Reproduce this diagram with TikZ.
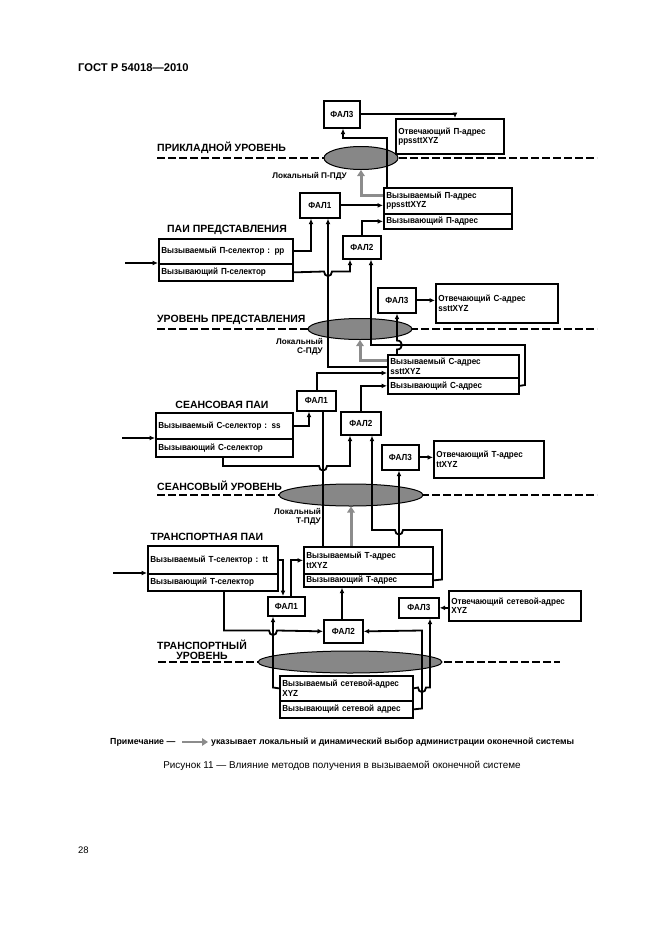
\documentclass[tikz,border=0pt]{standalone}
\usepackage{fontspec}
\setmainfont{Liberation Sans}
\newfontfamily\condfont[FakeStretch=0.92]{Liberation Sans}
\usetikzlibrary{arrows.meta,shapes.geometric}
\begin{document}
\begin{tikzpicture}[x=1pt,y=-1pt,
  bx/.style={draw, line width=1.7pt, inner sep=0pt, anchor=north west,
    font=\condfont\bfseries\fontsize{8.8}{9.3}\selectfont},
  fal/.style={bx, minimum width=#1},
  ad/.style={bx, align=left, inner xsep=2.5pt, text width=#1},
  conn/.style={line width=1.8pt},
  arr/.style={-{Latex[length=5.5pt,width=5pt]}},
  lvl/.style={line width=1.4pt, dash pattern=on 8pt off 3pt},
  lvltxt/.style={font=\bfseries\fontsize{10.5}{10.5}\selectfont, inner sep=0pt},
  ell/.style={ellipse, draw, line width=1pt, fill=black!47, inner sep=0pt},
  loc/.style={font=\bfseries\fontsize{8.2}{9}\selectfont, inner sep=0pt, align=right},
  grarr/.style={draw=black!45, line width=3pt, -{Triangle[length=6pt,width=7.5pt]}}
]
\useasboundingbox (0,0) rectangle (661,935);

% header and page number
\node[anchor=west, inner sep=0pt, font=\bfseries\fontsize{11.2}{12}\selectfont] (hdr) at (78,68) {ГОСТ Р 54018—2010};
\node[anchor=west, inner sep=0pt, font=\fontsize{9.5}{10}\selectfont] (pg) at (78,850) {28};

% level lines
\draw[lvl] (157,158) -- (597,158);
\draw[lvl] (157,329) -- (597,329);
\draw[lvl] (157,495) -- (597,495);
\draw[lvl] (158,662) -- (560,662);

\node[lvltxt, anchor=south west] (lP) at (157,154) {ПРИКЛАДНОЙ УРОВЕНЬ};
\node[lvltxt, anchor=south west] (lS) at (157,325) {УРОВЕНЬ ПРЕДСТАВЛЕНИЯ};
\node[lvltxt, anchor=south west] (lT) at (157,491) {СЕАНСОВЫЙ УРОВЕНЬ};
\node[lvltxt, align=center] (lN) at (202,650) {ТРАНСПОРТНЫЙ\\УРОВЕНЬ};

\node[lvltxt] (pP) at (227,230) {ПАИ ПРЕДСТАВЛЕНИЯ};
\node[lvltxt] (pS) at (222,405) {СЕАНСОВАЯ ПАИ};
\node[lvltxt] (pT) at (207,537) {ТРАНСПОРТНАЯ ПАИ};

% ellipses
\node[ell, minimum width=74pt, minimum height=23pt] (ellP) at (361,158) {};
\node[ell, minimum width=104pt, minimum height=21pt] (ellS) at (360,329) {};
\node[ell, minimum width=144pt, minimum height=22pt] (ellT) at (351,495) {};
\node[ell, minimum width=184pt, minimum height=22pt] (ellN) at (350,662) {};

\node[loc, anchor=east] (locP) at (347,176) {Локальный П-ПДУ};
\node[loc, anchor=east] (locS) at (323,347) {Локальный\\С-ПДУ};
\node[loc, anchor=east] (locT) at (321,517) {Локальный\\Т-ПДУ};

% ---------- application level boxes
\node[fal=36pt, minimum height=27pt] (fal3P) at (323,100) {ФАЛ3};
\node[ad=103pt, minimum height=35pt] (otvP) at (395,118) {Отвечающий П-адрес\\ppssttXYZ};
\node[ad=123pt, minimum height=26pt] (vyzPt) at (383,187) {Вызываемый П-адрес\\ppssttXYZ};
\node[ad=123pt, minimum height=15pt] (vyzPb) at (383,213) {Вызывающий П-адрес};
\node[fal=40pt, minimum height=25pt] (fal1P) at (299,192) {ФАЛ1};
\node[fal=38pt, minimum height=23pt] (fal2P) at (342,235) {ФАЛ2};
\node[ad=129pt, minimum height=25pt] (selPt) at (158,238) {Вызываемый П-селектор : pp};
\node[ad=129pt, minimum height=17pt] (selPb) at (158,263) {Вызывающий П-селектор};

% ---------- presentation level boxes
\node[fal=38pt, minimum height=25pt] (fal3S) at (377,287) {ФАЛ3};
\node[ad=117pt, minimum height=39pt] (otvS) at (435,283) {Отвечающий С-адрес\\ssttXYZ};
\node[ad=126pt, minimum height=23pt] (vyzSt) at (387,354) {Вызываемый С-адрес\\ssttXYZ};
\node[ad=126pt, minimum height=16pt] (vyzSb) at (387,377) {Вызывающий С-адрес};
\node[fal=39pt, minimum height=20pt] (fal1S) at (296,390) {ФАЛ1};
\node[fal=40pt, minimum height=23pt] (fal2S) at (340,411) {ФАЛ2};
\node[ad=132pt, minimum height=26pt] (selSt) at (155,412) {Вызываемый С-селектор : ss};
\node[ad=132pt, minimum height=18pt] (selSb) at (155,438) {Вызывающий С-селектор};

% ---------- session level boxes
\node[fal=37pt, minimum height=25pt] (fal3T) at (381,444) {ФАЛ3};
\node[ad=105pt, minimum height=37pt] (otvT) at (433,440) {Отвечающий Т-адрес\\ttXYZ};

% ---------- transport level boxes
\node[ad=125pt, minimum height=28pt] (selTt) at (147,545) {Вызываемый Т-селектор : tt};
\node[ad=125pt, minimum height=17pt] (selTb) at (147,573) {Вызывающий Т-селектор};
\node[ad=124pt, minimum height=27pt] (vyzTt) at (303,546) {Вызываемый Т-адрес\\ttXYZ};
\node[ad=124pt, minimum height=13pt] (vyzTb) at (303,573) {Вызывающий Т-адрес};
\node[fal=37pt, minimum height=19pt] (fal1T) at (267,596) {ФАЛ1};
\node[fal=39pt, minimum height=23pt] (fal2T) at (323,619) {ФАЛ2};
\node[fal=40pt, minimum height=20pt] (fal3N) at (398,597) {ФАЛ3};
\node[ad=127pt, minimum height=30pt] (otvN) at (448,590) {Отвечающий сетевой-адрес\\XYZ};
\node[ad=128pt, minimum height=25pt] (vyzNt) at (279,675) {Вызываемый сетевой-адрес\\XYZ};
\node[ad=128pt, minimum height=17pt] (vyzNb) at (279,700) {Вызывающий сетевой адрес};

% input arrows
\coordinate (inP) at (125,263);
\coordinate (inS) at (122,438);
\coordinate (inT) at (113,573);
\draw[conn,arr] (inP) -- (inP -| selPt.west);
\draw[conn,arr] (inS) -- (inS -| selSt.west);
\draw[conn,arr] (inT) -- (inT -| selTt.west);

% ---------- application level connectors
\draw[conn,arr] (fal3P.east) -| (otvP.north -| 455,0);
\draw[conn,arr] (vyzPt.north -| 387,0) -- (387,138) -- (343,138) -- (fal3P.south -| 343,0);
\draw[grarr] (vyzPt.west |- 0,195) -| (ellP.south);
\draw[conn,arr] (fal1P.east) -- (fal1P.east -| vyzPt.west);
\draw[conn,arr] (fal2P.north -| 362,0) |- (vyzPb.west);
\draw[conn,arr] (selPt.east) -| (fal1P.south -| 311,0);
\draw[conn,arr] (selPb.east) -- (324,271.5) .. controls (324,277.5) and (332,277.5) .. (332,271.5) -- (350,271.5) -- (fal2P.south -| 350,0);

% ---------- presentation level connectors
\draw[conn,arr] (vyzSt.west |- 0,367) -| (fal1P.south -| 328,0);
\draw[conn,arr] (vyzSb.east) -- (525,385) -- (525,345) -- (371,345) -- (fal2P.south -| 371,0);
\draw[conn,arr] (vyzSt.north -| 397,0) -- (397,349.5) .. controls (403.5,349.5) and (403.5,340.5) .. (397,340.5) -- (fal3S.south -| 397,0);
\draw[conn,arr] (fal3S.east) -- (fal3S.east -| otvS.west);
\draw[grarr] (vyzSt.west |- 0,360) -| (ellS.south);

% ---------- session level connectors
\draw[conn,arr] (fal1S.north -| 317,0) |- (vyzSt.west |- 0,373);
\draw[conn,arr] (fal2S.north -| 361,0) |- (vyzSb.west);
\draw[conn,arr] (selSt.east) -| (fal1S.south -| 309,0);
\draw[conn,arr] (selSb.south -| 223,0) -- (223,466) -- (319,466) .. controls (319,472) and (327,472) .. (327,466) -- (350,466) -- (fal2S.south -| 350,0);
\draw[conn] (vyzTt.north -| 323,0) -- (fal1S.south -| 323,0);
\draw[conn,arr] (vyzTb.east) -- (442,579.5) -- (442,530) -- (403,530) .. controls (403,536) and (395,536) .. (395,530) -- (372,530) -- (fal2S.south -| 372,0);
\draw[conn,arr] (vyzTt.north -| 399,0) -- (fal3T.south -| 399,0);
\draw[conn,arr] (fal3T.east) -- (fal3T.east -| otvT.west);
\draw[grarr] (vyzTt.north -| ellT.south) -- (ellT.south);

% ---------- transport level connectors
\draw[conn,arr] (selTt.east) -| (fal1T.north -| 283,0);
\draw[conn,arr] (fal1T.north -| 291,0) |- (vyzTt.west);
\draw[conn,arr] (fal2T.north -| 342,0) -- (vyzTb.south -| 342,0);
\draw[conn,arr] (selTb.south -| 224,0) -- (224,630.5) -- (269,630.5) .. controls (269,636.5) and (277,636.5) .. (277,630.5) -- (fal2T.west);
\draw[conn,arr] (vyzNt.west) -- (273,687.5) -- (fal1T.south -| 273,0);
\draw[conn,arr] (vyzNt.east) -- (418,687.5) .. controls (418,693.5) and (426,693.5) .. (426,687.5) -- (430,687.5) -- (fal3N.south -| 430,0);
\draw[conn,arr] (vyzNb.east) -- (422,708.5) -- (422,630.5) -- (fal2T.east);
\draw[conn,arr] (fal3N.east -| otvN.west) -- (fal3N.east);

% ---------- note and caption
\node[anchor=west, inner sep=0pt, font=\bfseries\fontsize{8.8}{9}\selectfont] (nt1) at (110,742) {Примечание —};
\coordinate (na) at (182,742);
\coordinate (nb) at (208,742);
\draw[grarr, line width=2.2pt] (na) -- (nb);
\node[anchor=west, inner sep=0pt, font=\bfseries\fontsize{8.8}{9}\selectfont] (nt2) at (211,742) {указывает локальный и динамический выбор администрации оконечной системы};
\node[inner sep=0pt, font=\fontsize{9.9}{10}\selectfont] (cap) at (342,766) {Рисунок 11 — Влияние методов получения в вызываемой оконечной системе};
\end{tikzpicture}
\end{document}
